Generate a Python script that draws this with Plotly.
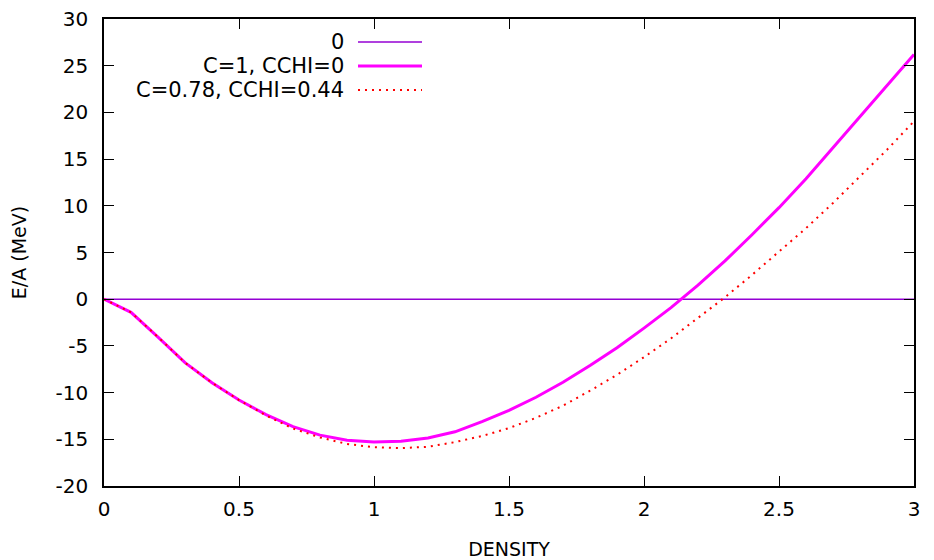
import plotly.graph_objects as go

density = [0.0, 0.1, 0.2, 0.3, 0.4, 0.5, 0.6, 0.7, 0.8, 0.9, 1.0,
           1.1, 1.2, 1.3, 1.4, 1.5, 1.6, 1.7, 1.8, 1.9, 2.0,
           2.1, 2.2, 2.3, 2.4, 2.5, 2.6, 2.7, 2.8, 2.9, 3.0]

ea_c1 = [0.0, -1.4, -4.05, -6.8, -8.95, -10.8, -12.35, -13.65, -14.55, -15.1, -15.3,
         -15.2, -14.85, -14.2, -13.1, -11.9, -10.5, -8.9, -7.1, -5.2, -3.1,
         -0.9, 1.5, 4.1, 6.9, 9.8, 12.9, 16.2, 19.5, 22.8, 26.2]

ea_c078 = [0.0, -1.4, -4.05, -6.8, -8.95, -10.8, -12.45, -13.85, -14.8, -15.5, -15.85,
           -15.95, -15.8, -15.3, -14.65, -13.8, -12.7, -11.4, -9.8, -8.1, -6.2,
           -4.2, -2.0, 0.2, 2.6, 5.1, 7.6, 10.3, 13.1, 16.0, 19.05]

zero_line = [0.0] * len(density)

series_names = ["0", "C=1, CCHI=0", "C=0.78, CCHI=0.44"]
x_ticks = [0, 0.5, 1, 1.5, 2, 2.5, 3]
x_tick_labels = ["0", "0.5", "1", "1.5", "2", "2.5", "3"]
y_ticks = [-20, -15, -10, -5, 0, 5, 10, 15, 20, 25, 30]
y_tick_labels = ["-20", "-15", "-10", "-5", "0", "5", "10", "15", "20", "25", "30"]

FONT = "DejaVu Sans"
colors = ["#9400d3", "#ff00ff", "#ff0000"]
widths = [1.5, 3, 2]
dashes = ["solid", "solid", "2px,5px"]

fig = go.Figure()
for name, ys, c, w, d in zip(series_names, [zero_line, ea_c1, ea_c078], colors, widths, dashes):
    fig.add_trace(go.Scatter(x=density, y=ys, mode="lines", name=name,
                             line=dict(color=c, width=w, dash=d), showlegend=False))

# custom gnuplot-style legend (text right, sample line after)
leg_y = [42, 66, 90]
W, H = 934, 560
ml, mr, mt, mb = 104, 20, 19, 74
pw, ph = W - ml - mr, H - mt - mb
def px_to_paper(x, y):
    return (x - ml) / pw, 1 - (y - mt) / ph

for name, c, w, d, yy in zip(series_names, colors, widths, dashes, leg_y):
    tx, ty = px_to_paper(346, yy)
    fig.add_annotation(x=tx, y=ty, xref="paper", yref="paper", text=name,
                       showarrow=False, xanchor="right", yanchor="middle",
                       font=dict(family=FONT, size=21, color="black"))
    x0, y0 = px_to_paper(358, yy)
    x1, _ = px_to_paper(422, yy)
    fig.add_shape(type="line", xref="paper", yref="paper", x0=x0, x1=x1, y0=y0, y1=y0,
                  line=dict(color=c, width=w, dash=d))

axis_common = dict(showline=True, linecolor="black", linewidth=1.5, mirror="ticks",
                   ticks="inside", ticklen=10, tickwidth=1, tickcolor="black",
                   showgrid=False, zeroline=False,
                   tickfont=dict(family=FONT, size=20, color="black"))

fig.update_xaxes(range=[0, 3], tickvals=x_ticks, ticktext=x_tick_labels, ticklabelstandoff=4,
                 title=dict(text="DENSITY", font=dict(family=FONT, size=19, color="black"), standoff=24),
                 **axis_common)
fig.update_yaxes(range=[-20, 30], tickvals=y_ticks, ticktext=y_tick_labels, ticklabelstandoff=10,
                 title=dict(text="E/A (MeV)", font=dict(family=FONT, size=19, color="black"), standoff=24),
                 **axis_common)

fig.update_layout(width=W, height=H, margin=dict(l=ml, r=mr, t=mt, b=mb, autoexpand=False),
                  plot_bgcolor="white", paper_bgcolor="white",
                  font=dict(family=FONT, size=20, color="black"))

fig.write_html("out.html", config={"displayModeBar": False},
               post_script="document.body.style.margin='0px';")
